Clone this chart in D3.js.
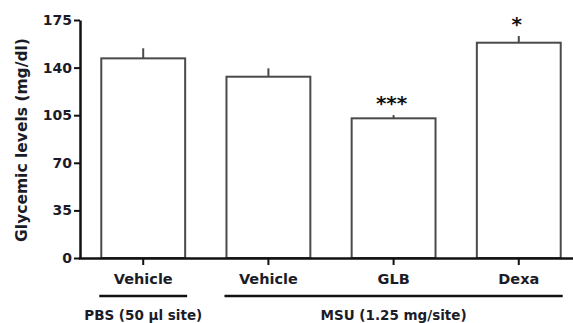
<!DOCTYPE html>
<html>
<head>
<meta charset="utf-8">
<script src="https://cdn.jsdelivr.net/npm/d3@7"></script>
<style>
    body { margin: 0; background: #fff; }
    text { font-family: "DejaVu Sans", sans-serif; font-weight: bold; fill: #1c1c28; }
</style>
</head>
<body>
<div id="chart"></div>
<script>
// Data
const categories = ["Vehicle", "Vehicle ", "GLB", "Dexa"];
const tickNames = ["Vehicle", "Vehicle", "GLB", "Dexa"];
const means = [146.8, 133.3, 102.7, 158.3];
const errors = [7.4, 6.2, 2.4, 4.9];
const stars = ["", "", "***", "*"];
const yTicks = [0, 35, 70, 105, 140, 175];
const groups = [
    { label: "PBS (50 µl site)", from: 0, to: 0 },
    { label: "MSU (1.25 mg/site)", from: 1, to: 3 }
];

const width = 573, height = 323;

const svg = d3.select("#chart")
    .append("svg")
    .attr("width", width)
    .attr("height", height);

// Scales
const x = d3.scaleBand()
    .domain(categories)
    .range([80, 582])
    .paddingInner(0.33)
    .paddingOuter(0.17);

const y = d3.scaleLinear()
    .domain([0, 175])
    .range([258, 20]);

// Bars
svg.append("g")
    .selectAll("rect")
    .data(means)
    .join("rect")
    .attr("x", (d, i) => x(categories[i]))
    .attr("y", d => y(d))
    .attr("width", x.bandwidth())
    .attr("height", d => y(0) - y(d))
    .attr("fill", "#fff")
    .attr("stroke", "#4a4a4a")
    .attr("stroke-width", 2);

// Error bars (upper only)
svg.append("g")
    .selectAll("line")
    .data(means)
    .join("line")
    .attr("x1", (d, i) => x(categories[i]) + x.bandwidth() / 2)
    .attr("x2", (d, i) => x(categories[i]) + x.bandwidth() / 2)
    .attr("y1", d => y(d))
    .attr("y2", (d, i) => y(d + errors[i]))
    .attr("stroke", "#4a4a4a")
    .attr("stroke-width", 2);

// Significance marks
svg.append("g")
    .selectAll("text")
    .data(stars)
    .join("text")
    .attr("x", (d, i) => x(categories[i]) + x.bandwidth() / 2 - 2)
    .attr("y", (d, i) => y(means[i] + errors[i]) - 5)
    .attr("text-anchor", "middle")
    .attr("font-size", "20px")
    .style("fill", "#111")
    .text(d => d);

// Y axis
const yAxis = svg.append("g")
    .attr("transform", "translate(80,0)")
    .call(d3.axisLeft(y).tickValues(yTicks).tickSize(6).tickPadding(2).tickSizeOuter(0));
yAxis.select(".domain").attr("stroke", "#111").attr("stroke-width", 2.5);
yAxis.selectAll(".tick line").attr("stroke", "#111").attr("stroke-width", 2);
yAxis.selectAll(".tick text").attr("font-size", "14px").attr("font-family", null);

// X axis
const xAxis = svg.append("g")
    .attr("transform", "translate(0,258)")
    .call(d3.axisBottom(x).tickSize(7).tickPadding(9).tickSizeOuter(0)
        .tickFormat((d, i) => tickNames[i]));
xAxis.select(".domain").attr("d", `M79,0.5H${width}`)
    .attr("stroke", "#111").attr("stroke-width", 2.5);
xAxis.selectAll(".tick line").attr("stroke", "#111").attr("stroke-width", 2);
xAxis.selectAll(".tick text").attr("font-size", "14.5px").attr("font-family", null);

// Group brackets
const grp = svg.append("g");
grp.selectAll("line")
    .data(groups)
    .join("line")
    .attr("x1", d => x(categories[d.from]) - 2)
    .attr("x2", d => x(categories[d.to]) + x.bandwidth() + 2)
    .attr("y1", 296)
    .attr("y2", 296)
    .attr("stroke", "#111")
    .attr("stroke-width", 2.5);
grp.selectAll("text")
    .data(groups)
    .join("text")
    .attr("x", d => (x(categories[d.from]) + x(categories[d.to]) + x.bandwidth()) / 2)
    .attr("y", 320)
    .attr("text-anchor", "middle")
    .attr("font-size", "13.5px")
    .text(d => d.label);

// Y axis title
svg.append("text")
    .attr("transform", "translate(27,140) rotate(-90)")
    .attr("text-anchor", "middle")
    .attr("font-size", "15.5px")
    .text("Glycemic levels (mg/dl)");
</script>
</body>
</html>
